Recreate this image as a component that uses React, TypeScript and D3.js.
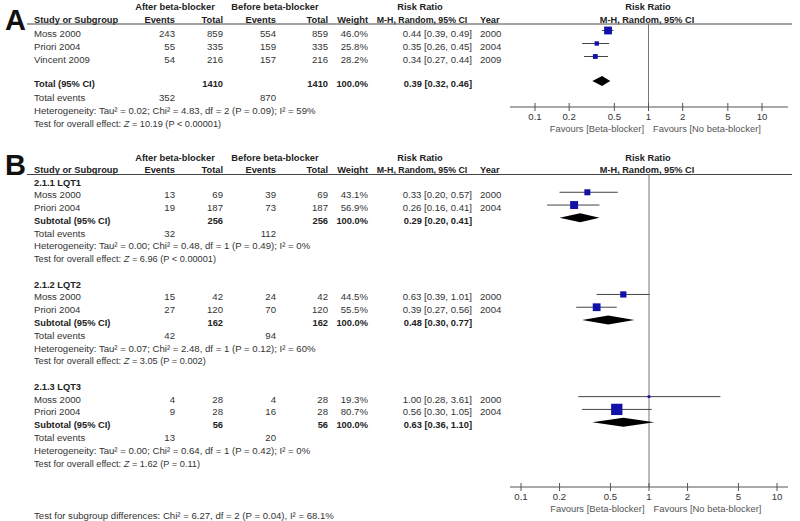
import React from 'react';
import * as d3 from 'd3';

// Panel A: overall
const aStudies = ['Moss 2000', 'Priori 2004', 'Vincent 2009'];
const aEventsAfter = [243, 55, 54];
const aTotalAfter = [859, 335, 216];
const aEventsBefore = [554, 159, 157];
const aTotalBefore = [859, 335, 216];
const aWeight = [46.0, 25.8, 28.2];
const aRR = [0.44, 0.35, 0.34];
const aLo = [0.39, 0.26, 0.27];
const aHi = [0.49, 0.45, 0.44];
const aYear = [2000, 2004, 2009];
const aPooled = { rr: 0.39, lo: 0.32, hi: 0.46, totalAfter: 1410, totalBefore: 1410, eventsAfter: 352, eventsBefore: 870 };
const aHet = 'Heterogeneity: Tau² = 0.02; Chi² = 4.83, df = 2 (P = 0.09); I² = 59%';
const aTest = '= 10.19 (P < 0.00001)';

// Panel B: subgroups
const bGroups = ['2.1.1 LQT1', '2.1.2 LQT2', '2.1.3 LQT3'];
const bStudies = [['Moss 2000', 'Priori 2004'], ['Moss 2000', 'Priori 2004'], ['Moss 2000', 'Priori 2004']];
const bEventsAfter = [[13, 19], [15, 27], [4, 9]];
const bTotalAfter = [[69, 187], [42, 120], [28, 28]];
const bEventsBefore = [[39, 73], [24, 70], [4, 16]];
const bTotalBefore = [[69, 187], [42, 120], [28, 28]];
const bWeight = [[43.1, 56.9], [44.5, 55.5], [19.3, 80.7]];
const bRR = [[0.33, 0.26], [0.63, 0.39], [1.0, 0.56]];
const bLo = [[0.2, 0.16], [0.39, 0.27], [0.28, 0.3]];
const bHi = [[0.57, 0.41], [1.01, 0.56], [3.61, 1.05]];
const bYear = [[2000, 2004], [2000, 2004], [2000, 2004]];
const bSubRR = [0.29, 0.48, 0.63];
const bSubLo = [0.2, 0.3, 0.36];
const bSubHi = [0.41, 0.77, 1.1];
const bSubTotalAfter = [256, 162, 56];
const bSubTotalBefore = [256, 162, 56];
const bSubEventsAfter = [32, 42, 13];
const bSubEventsBefore = [112, 94, 20];
const bHet = [
  'Heterogeneity: Tau² = 0.00; Chi² = 0.48, df = 1 (P = 0.49); I² = 0%',
  'Heterogeneity: Tau² = 0.07; Chi² = 2.48, df = 1 (P = 0.12); I² = 60%',
  'Heterogeneity: Tau² = 0.00; Chi² = 0.64, df = 1 (P = 0.42); I² = 0%',
];
const bTest = ['= 6.96 (P < 0.00001)', '= 3.05 (P = 0.002)', '= 1.62 (P = 0.11)'];
const subgroupDiff = 'Test for subgroup differences: Chi² = 6.27, df = 2 (P = 0.04), I² = 68.1%';

const tickValues = [0.1, 0.2, 0.5, 1, 2, 5, 10];

const font = 'Liberation Sans, Arial, sans-serif';
const txt = '#333';
const blue = '#1212a8';
const col = { study: 34, evA: 175, totA: 223, evB: 276, totB: 328, w: 368, rr: 472, year: 480 };

const fmt2 = d3.format('.2f');
const ci = (r: number, l: number, h: number) => `${fmt2(r)} [${fmt2(l)}, ${fmt2(h)}]`;

// regular and bold text
const T = (props: any) => <text fontFamily={font} fontSize={9.6} fill={txt} {...props} />;
const Bd = (props: any) => <text fontFamily={font} fontSize={9.3} fontWeight="bold" fill="#222" {...props} />;

function Header({ y1, y2, lineY }: { y1: number; y2: number; lineY: number }) {
  return (
    <g>
      <Bd x={175} y={y1} textAnchor="middle">After beta-blocker</Bd>
      <Bd x={275} y={y1} textAnchor="middle">Before beta-blocker</Bd>
      <Bd x={420} y={y1} textAnchor="middle">Risk Ratio</Bd>
      <Bd x={648} y={y1} textAnchor="middle">Risk Ratio</Bd>
      <Bd x={col.study} y={y2}>Study or Subgroup</Bd>
      <Bd x={col.evA} y={y2} textAnchor="end">Events</Bd>
      <Bd x={col.totA} y={y2} textAnchor="end">Total</Bd>
      <Bd x={col.evB} y={y2} textAnchor="end">Events</Bd>
      <Bd x={col.totB} y={y2} textAnchor="end">Total</Bd>
      <Bd x={col.w} y={y2} textAnchor="end">Weight</Bd>
      <Bd x={422} y={y2} textAnchor="middle" fontSize={8.8}>M-H, Random, 95% CI</Bd>
      <Bd x={col.year} y={y2}>Year</Bd>
      <Bd x={647} y={y2} textAnchor="middle" fontSize={9.2}>M-H, Random, 95% CI</Bd>
      <line x1={27} x2={792} y1={lineY} y2={lineY} stroke="#444" strokeWidth={1} />
    </g>
  );
}

function Axis({ x, top, axisY }: { x: d3.ScaleLogarithmic<number, number>; top: number; axisY: number }) {
  return (
    <g>
      <line x1={x(1)} x2={x(1)} y1={top} y2={axisY} stroke="#777" strokeWidth={1} />
      <line x1={510} x2={788} y1={axisY} y2={axisY} stroke="#555" strokeWidth={1} />
      {tickValues.map((t) => (
        <g key={t}>
          <line x1={x(t)} x2={x(t)} y1={axisY - 4} y2={axisY + 4} stroke="#555" />
          <T x={x(t)} y={axisY + 13} textAnchor="middle">{String(t)}</T>
        </g>
      ))}
      <T x={x(1) - 4.5} y={axisY + 25} textAnchor="end" fill="#555" fontSize={9.4}>Favours [Beta-blocker]</T>
      <T x={x(1) + 4.5} y={axisY + 25} fill="#555" fontSize={9.4}>Favours [No beta-blocker]</T>
    </g>
  );
}

function StudyRow({ y, x, name, ea, ta, eb, tb, w, rr, lo, hi, yr, k }: any) {
  const s = Math.max(w * k, 2.5);
  const my = y - 2.5;
  return (
    <g>
      <T x={col.study} y={y + 3.5}>{name}</T>
      <T x={col.evA} y={y + 3.5} textAnchor="end">{ea}</T>
      <T x={col.totA} y={y + 3.5} textAnchor="end">{ta}</T>
      <T x={col.evB} y={y + 3.5} textAnchor="end">{eb}</T>
      <T x={col.totB} y={y + 3.5} textAnchor="end">{tb}</T>
      <T x={col.w} y={y + 3.5} textAnchor="end">{w.toFixed(1)}%</T>
      <T x={col.rr} y={y + 3.5} textAnchor="end">{ci(rr, lo, hi)}</T>
      <T x={col.year} y={y + 3.5}>{yr}</T>
      <line x1={x(lo)} x2={x(hi)} y1={my} y2={my} stroke="#444" strokeWidth={1} />
      <rect x={x(rr) - s / 2} y={my - s / 2} width={s} height={s} fill={blue} />
    </g>
  );
}

function PooledRow({ y, x, label, ta, tb, rr, lo, hi, h }: any) {
  const my = y - 2.5;
  const pts = [[x(lo), my], [x(rr), my - h / 2], [x(hi), my], [x(rr), my + h / 2]];
  return (
    <g>
      <Bd x={col.study} y={y + 3.5}>{label}</Bd>
      <Bd x={col.totA} y={y + 3.5} textAnchor="end">{ta}</Bd>
      <Bd x={col.totB} y={y + 3.5} textAnchor="end">{tb}</Bd>
      <Bd x={col.w} y={y + 3.5} textAnchor="end">100.0%</Bd>
      <Bd x={col.rr} y={y + 3.5} textAnchor="end">{ci(rr, lo, hi)}</Bd>
      <polygon points={pts.map((p) => p.join(',')).join(' ')} fill="#000" />
    </g>
  );
}

function Footer({ y, ea, eb, het, test, step }: any) {
  return (
    <g>
      <T x={col.study} y={y + 3.5}>Total events</T>
      <T x={col.evA} y={y + 3.5} textAnchor="end">{ea}</T>
      <T x={col.evB} y={y + 3.5} textAnchor="end">{eb}</T>
      <T x={col.study} y={y + step + 3.5}>{het}</T>
      <T x={col.study} y={y + 2 * step + 3.5} fontSize={9.2}>
        Test for overall effect: <tspan fontStyle="italic">Z</tspan> {test}
      </T>
    </g>
  );
}

export default function App() {
  const xA = d3.scaleLog().domain([0.1, 10]).range([535, 762]);
  const xB = d3.scaleLog().domain([0.1, 10]).range([521, 777]);
  const yA = d3.scaleLinear().domain([0, 7]).range([33, 124]);
  const yB = d3.scaleLinear().domain([0, 22]).range([182, 463]);
  const stepB = yB(1) - yB(0);

  return (
    <svg width={800} height={521} style={{ position: 'absolute', left: 0, top: 0, background: '#fff' }}>
      <rect width={800} height={521} fill="#fff" />
      {/* Panel A */}
      <text x={5} y={30} fontFamily={font} fontSize={29} fontWeight="bold" fill="#111">A</text>
      <Header y1={9.5} y2={23} lineY={24} />
      <Axis x={xA} top={24} axisY={107} />
      {aStudies.map((s, i) => (
        <StudyRow key={s} y={yA(i)} x={xA} name={s} ea={aEventsAfter[i]} ta={aTotalAfter[i]}
          eb={aEventsBefore[i]} tb={aTotalBefore[i]} w={aWeight[i]} rr={aRR[i]} lo={aLo[i]} hi={aHi[i]}
          yr={aYear[i]} k={0.17} />
      ))}
      <PooledRow y={yA(4) - 1.5} x={xA} label="Total (95% CI)" ta={aPooled.totalAfter} tb={aPooled.totalBefore}
        rr={aPooled.rr} lo={aPooled.lo} hi={aPooled.hi} h={10} />
      <Footer y={yA(5) - 1} ea={aPooled.eventsAfter} eb={aPooled.eventsBefore} het={aHet} test={aTest} step={13} />

      {/* Panel B */}
      <text x={5} y={175} fontFamily={font} fontSize={29} fontWeight="bold" fill="#111">B</text>
      <Header y1={160.5} y2={173} lineY={174.5} />
      <Axis x={xB} top={174.5} axisY={487} />
      {bGroups.map((g, gi) => {
        const base = gi * 8;
        return (
          <g key={g}>
            <Bd x={col.study} y={yB(base) + 3.5}>{g}</Bd>
            {bStudies[gi].map((s, i) => (
              <StudyRow key={s} y={yB(base + 1 + i)} x={xB} name={s} ea={bEventsAfter[gi][i]}
                ta={bTotalAfter[gi][i]} eb={bEventsBefore[gi][i]} tb={bTotalBefore[gi][i]} w={bWeight[gi][i]}
                rr={bRR[gi][i]} lo={bLo[gi][i]} hi={bHi[gi][i]} yr={bYear[gi][i]} k={0.14} />
            ))}
            <PooledRow y={yB(base + 3)} x={xB} label="Subtotal (95% CI)" ta={bSubTotalAfter[gi]}
              tb={bSubTotalBefore[gi]} rr={bSubRR[gi]} lo={bSubLo[gi]} hi={bSubHi[gi]} h={9} />
            <Footer y={yB(base + 4)} ea={bSubEventsAfter[gi]} eb={bSubEventsBefore[gi]} het={bHet[gi]}
              test={bTest[gi]} step={stepB} />
          </g>
        );
      })}
      <T x={col.study} y={519}>{subgroupDiff}</T>
    </svg>
  );
}
